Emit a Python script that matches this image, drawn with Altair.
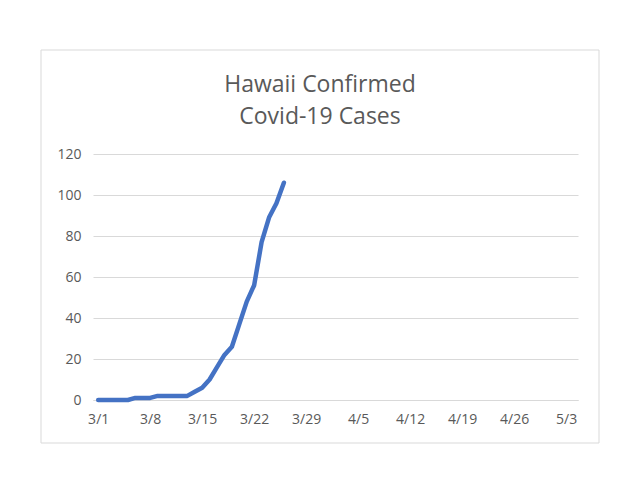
import altair as alt
import pandas as pd

dates = ["3/1","3/2","3/3","3/4","3/5","3/6","3/7","3/8","3/9","3/10","3/11","3/12","3/13",
         "3/14","3/15","3/16","3/17","3/18","3/19","3/20","3/21","3/22","3/23","3/24","3/25","3/26"]
cases = [0,0,0,0,0,1,1,1,2,2,2,2,2,4,6,10,16,22,26,37,48,56,77,89,96,106]
tick_labels = ["3/1","3/8","3/15","3/22","3/29","4/5","4/12","4/19","4/26","5/3"]
title_lines = ["Hawaii Confirmed", "Covid-19 Cases"]

df = pd.DataFrame({"date": dates, "cases": cases, "day": list(range(len(dates)))})

label_arr = "[" + ",".join("'" + t + "'" for t in tick_labels) + "]"

FONT = "Open Sans"
GREY = "#595959"

line = alt.Chart(df).mark_line(color="#4472C4", strokeWidth=4.5, strokeJoin="round", strokeCap="round").encode(
    x=alt.X("day:Q", scale=alt.Scale(domain=[-0.7, 64.6], nice=False, zero=False),
            axis=alt.Axis(values=[i * 7 for i in range(len(tick_labels))],
                          labelExpr=label_arr + "[round(datum.value/7)]",
                          title=None, grid=False, ticks=False, domain=True,
                          domainColor="#d9d9d9", labelFont=FONT, labelFontSize=14,
                          labelColor=GREY, labelPadding=12)),
    y=alt.Y("cases:Q", scale=alt.Scale(domain=[0, 120], nice=False),
            axis=alt.Axis(values=[0, 20, 40, 60, 80, 100, 120], title=None, grid=True,
                          gridColor="#d9d9d9", ticks=False, domain=False,
                          labelFont=FONT, labelFontSize=14, labelColor=GREY, labelPadding=12)),
)

border = alt.Chart(pd.DataFrame({"a": [0]})).mark_rect(fill=None, stroke="#d9d9d9", strokeWidth=1).encode(
    x=alt.value(-52), x2=alt.value(506), y=alt.value(-104), y2=alt.value(289)
)

t1 = alt.Chart(pd.DataFrame({"t": [title_lines[0]]})).mark_text(
    font=FONT, fontSize=23, color=GREY, align="center", baseline="alphabetic"
).encode(text="t:N", x=alt.value(227), y=alt.value(-62))
t2 = alt.Chart(pd.DataFrame({"t": [title_lines[1]]})).mark_text(
    font=FONT, fontSize=23, color=GREY, align="center", baseline="alphabetic"
).encode(text="t:N", x=alt.value(227), y=alt.value(-30))

chart = alt.layer(border, line, t1, t2).properties(
    width=485, height=246,
    autosize=alt.AutoSizeParams(type="none"),
    padding={"left": 85, "top": 146, "right": 40, "bottom": 80},
    background="white",
).configure_view(stroke=None)

chart.save("out.html", embed_options={"renderer": "svg", "actions": False})
